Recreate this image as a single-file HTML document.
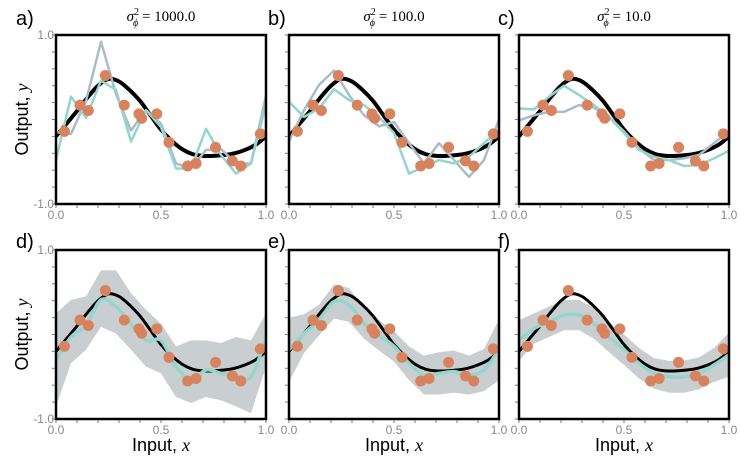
<!DOCTYPE html>
<html><head><meta charset="utf-8"><style>
body{margin:0;background:#fff;width:741px;height:460px;overflow:hidden}
.sans{font-family:"Liberation Sans",sans-serif}
.serif{font-family:"Liberation Serif",serif}
</style></head><body>
<svg id="fig" width="741" height="460" xmlns="http://www.w3.org/2000/svg"></svg>
<script>
const xs15 = [0,1/14,2/14,3/14,4/14,5/14,6/14,7/14,8/14,9/14,10/14,11/14,12/14,13/14,1];
const trueX = [0,0.05,0.1,0.15,0.2,0.25,0.3,0.35,0.4,0.45,0.5,0.55,0.6,0.65,0.7,0.75,0.8,0.85,0.9,0.95,1];
const trueY = [-0.2,-0.05,0.1,0.26,0.40,0.48,0.45,0.35,0.22,0.05,-0.12,-0.25,-0.35,-0.41,-0.43,-0.43,-0.42,-0.40,-0.36,-0.30,-0.2];
const ptX = [0.04,0.114,0.154,0.235,0.325,0.395,0.408,0.48,0.538,0.627,0.667,0.76,0.84,0.88,0.973];
const ptY = [-0.14,0.17,0.106,0.52,0.17,0.067,0.015,0.067,-0.27,-0.55,-0.52,-0.33,-0.49,-0.55,-0.17];
const aTeal = [-0.48,0.27,0.02,0.46,0.35,-0.26,0.11,-0.09,-0.58,-0.58,-0.11,-0.42,-0.64,-0.52,0.18];
const aBlue = [-0.15,-0.17,0.22,0.92,0.30,-0.13,0.11,-0.05,-0.52,-0.58,-0.36,-0.35,-0.52,-0.52,0.28];
const bTeal = [0.21,0.03,0.13,0.36,0.23,0.17,0.03,-0.16,-0.64,-0.56,-0.48,-0.52,-0.44,-0.28,-0.12];
const bBlue = [-0.26,0.11,0.41,0.58,0.29,0.05,-0.08,-0.03,-0.28,-0.52,-0.28,-0.48,-0.68,-0.48,0];
const cTeal = [0.13,0.12,0.27,0.40,0.29,0.17,0.03,-0.16,-0.36,-0.44,-0.48,-0.55,-0.54,-0.46,-0.37];
const cBlue = [-0.01,0.05,0.09,0.09,0.17,0.14,0.03,-0.14,-0.34,-0.48,-0.48,-0.46,-0.42,-0.28,-0.14];
const dMean = [-0.30,-0.03,0.11,0.41,0.33,0.13,-0.07,-0.07,-0.38,-0.54,-0.42,-0.46,-0.50,-0.50,-0.05];
const dUpper = [0.25,0.41,0.45,0.76,0.76,0.49,0.29,0.13,-0.14,-0.07,-0.07,-0.10,-0.03,-0.07,0.25];
const dLower = [-0.85,-0.34,-0.18,0.09,0.01,-0.18,-0.38,-0.46,-0.74,-0.81,-0.74,-0.78,-0.85,-0.93,-0.38];
const eMean = [-0.18,0.01,0.17,0.39,0.35,0.13,-0.01,-0.14,-0.34,-0.48,-0.46,-0.44,-0.48,-0.42,-0.18];
const eUpper = [0.20,0.24,0.35,0.59,0.55,0.31,0.17,0.04,-0.14,-0.25,-0.21,-0.19,-0.25,-0.17,0.18];
const eLower = [-0.56,-0.22,-0.01,0.19,0.15,-0.05,-0.19,-0.32,-0.54,-0.71,-0.71,-0.69,-0.71,-0.67,-0.54];
const fMean = [-0.07,0.07,0.15,0.23,0.23,0.13,-0.03,-0.18,-0.34,-0.46,-0.50,-0.50,-0.46,-0.36,-0.24];
const fUpper = [0.17,0.25,0.33,0.41,0.41,0.31,0.15,0.0,-0.16,-0.28,-0.31,-0.31,-0.27,-0.16,0.02];
const fLower = [-0.31,-0.11,-0.03,0.05,0.05,-0.05,-0.21,-0.36,-0.52,-0.64,-0.69,-0.69,-0.65,-0.56,-0.50];
const panelLetters = ["a)","b)","c)","d)","e)","f)"];
const titles = ["1000.0","100.0","10.0"];
const xTicks = ["0.0","0.5","1.0"];
const yTicks = ["1.0","-1.0"];

const NS="http://www.w3.org/2000/svg";
const svg=document.getElementById('fig');
function mk(tag,attrs,parent){const e=document.createElementNS(NS,tag);for(const k in attrs)e.setAttribute(k,attrs[k]);(parent||svg).appendChild(e);return e;}
function smooth(pts){let d=`M${pts[0][0]},${pts[0][1]}`;for(let i=0;i<pts.length-1;i++){const p0=pts[Math.max(0,i-1)],p1=pts[i],p2=pts[i+1],p3=pts[Math.min(pts.length-1,i+2)];d+=` C${p1[0]+(p2[0]-p0[0])/6},${p1[1]+(p2[1]-p0[1])/6} ${p2[0]-(p3[0]-p1[0])/6},${p2[1]-(p3[1]-p1[1])/6} ${p2[0]},${p2[1]}`;}return d;}
function poly(pts){return 'M'+pts.map(p=>p[0]+','+p[1]).join(' L');}

const lefts=[56,289,519], tops=[35,250], W=210, H=169;
const panels=[
 {lines:[[aBlue,'#aabccc'],[aTeal,'#92d6cc']]},
 {lines:[[bBlue,'#aabccc'],[bTeal,'#92d6cc']]},
 {lines:[[cBlue,'#aabccc'],[cTeal,'#92d6cc']]},
 {mean:dMean,up:dUpper,lo:dLower},
 {mean:eMean,up:eUpper,lo:eLower},
 {mean:fMean,up:fUpper,lo:fLower}];
panels.forEach((p,i)=>{
 const L=lefts[i%3],T=tops[Math.floor(i/3)];
 const sx=x=>L+x*W, sy=y=>T+H/2-y*H/2;
 const g=mk('g',{});
 
 
 const clip=mk('clipPath',{id:'c'+i},g);mk('rect',{x:L,y:T,width:W,height:H},clip);
 const pg=mk('g',{'clip-path':`url(#c${i})`},g);
 if(p.up){
  const up=xs15.map((x,k)=>[sx(x),sy(p.up[k])]);
  const lo=xs15.map((x,k)=>[sx(x),sy(p.lo[k])]).reverse();
  const b=mk('path',{d:poly(up)+' L'+lo.map(q=>q[0]+','+q[1]).join(' L')+' Z',fill:'#c9cfd1'},pg);
  
  
 }
 const tc=mk('path',{d:smooth(trueX.map((x,k)=>[sx(x),sy(trueY[k])])),fill:'none',stroke:'#000','stroke-width':p.up?3:4},pg);
 
 
 if(p.lines){p.lines.forEach((ln,j)=>{
  const e=mk('path',{d:poly(xs15.map((x,k)=>[sx(x),sy(ln[0][k])])),fill:'none',stroke:ln[1],'stroke-width':2.5,'stroke-linejoin':'round'},pg);
  
  
 });}
 if(p.mean){
  const e=mk('path',{d:smooth(xs15.map((x,k)=>[sx(x),sy(p.mean[k])])),fill:'none',stroke:'#92d6cc','stroke-width':3.5},pg);
  
  
 }
 ptX.forEach((x,k)=>{
  const c=mk('circle',{cx:sx(x),cy:sy(ptY[k]),r:5.5,fill:'#d9825e'},pg);
  
  
 });
 const fr=mk('rect',{x:L,y:T,width:W,height:H,fill:'none',stroke:'#000','stroke-width':2.5},g);
 
 
 for(let k=0;k<=10;k++){
  mk('line',{x1:L-4,x2:L-1,y1:T+k*H/10,y2:T+k*H/10,stroke:'#777','stroke-width':1},g);
  mk('line',{x1:L+k*W/10,x2:L+k*W/10,y1:T+H+1,y2:T+H+4,stroke:'#777','stroke-width':1},g);
 }
 xTicks.forEach((t,k)=>{
  const e=mk('text',{class:'sans',x:L+k*W/2,y:T+H+15,'text-anchor':'middle','font-size':12,fill:'#888'},g);e.textContent=t;
  
  
 });
 if(i%3==0){
  yTicks.forEach((t,k)=>{
   const e=mk('text',{class:'sans',x:L-2,y:T+k*H+4,'text-anchor':'end','font-size':12,fill:'#888'},g);e.textContent=t;
   
   
  });
  const yl=mk('text',{class:'sans',x:0,y:0,transform:`translate(28,${T+H/2}) rotate(-90)`,'text-anchor':'middle','font-size':18,fill:'#000'},g);
  yl.innerHTML='Output, <tspan style="font-family:\'Liberation Serif\',serif;font-style:italic">y</tspan>';
  
  
 }
 const pl=mk('text',{class:'sans',x:(i%3?L-21:16),y:(i<3?25:248),'font-size':20,fill:'#000'},g);pl.textContent=panelLetters[i];
 
 
 if(i<3){
  const tt=mk('text',{class:'serif',x:L+W/2,y:21,'text-anchor':'middle','font-size':15,fill:'#000'},g);
  tt.innerHTML='<tspan font-style="italic">σ</tspan><tspan font-size="10" dy="-6">2</tspan><tspan font-size="10" font-style="italic" dx="-6" dy="11">ϕ</tspan><tspan dy="-5"> = '+titles[i]+'</tspan>';
  
  
 } else {
  const xl=mk('text',{class:'sans',x:L+W/2,y:451,'text-anchor':'middle','font-size':18,fill:'#000'},g);
  xl.innerHTML='Input, <tspan style="font-family:\'Liberation Serif\',serif;font-style:italic">x</tspan>';
  
  
 }
});
</script>
</body></html>
